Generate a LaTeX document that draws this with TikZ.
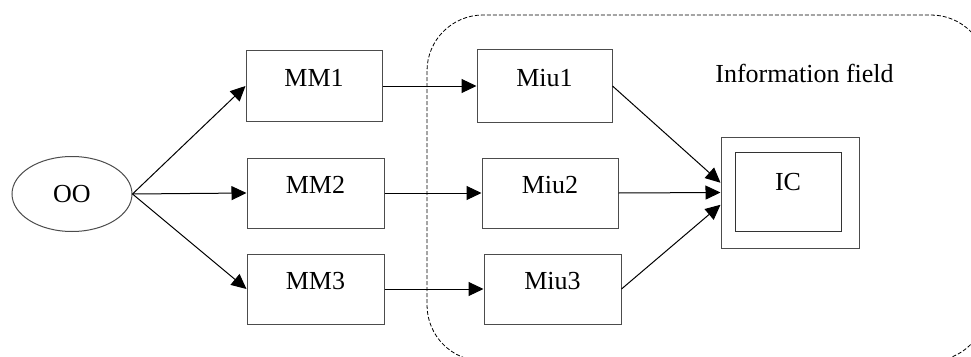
\documentclass[tikz,border=0pt]{standalone}
\usepackage{fontspec}
\setmainfont{Liberation Serif}
\usetikzlibrary{calc}
\usetikzlibrary{arrows.meta}
\usetikzlibrary{shapes.geometric}

\begin{document}
\begin{tikzpicture} [x=1pt, y=-1pt, line width=1pt,
  every node/.style={font=\fontsize{26pt}{30pt}\selectfont},
  box/.style={draw=black!70, rectangle, minimum width=136pt, minimum height=71pt, text depth=17pt, inner sep=0pt},
  arr/.style={-{Triangle[length=15pt,width=14pt]}}]
\useasboundingbox (0,0) rectangle (971,356);
\clip (0,0) rectangle (971,356);

% information field
\draw[dash pattern=on 4pt off 2pt, line width=.8pt, rounded corners=56pt] (427,15) rectangle (987,361);
\node (field) at (804.5,73) {Information field};

\node[draw=black!70, ellipse, minimum width=120pt, minimum height=75pt, inner sep=0pt] (oo) at (72,194) {OO};

\node[box] (mm1) at (314,86) {MM1};
\node[box, minimum width=137pt, minimum height=70pt] (mm2) at (315.5,193) {MM2};
\node[box, minimum width=137pt, minimum height=70pt] (mm3) at (315.5,289) {MM3};

\node[box, minimum width=135pt, minimum height=73pt] (miu1) at (544.5,86) {Miu1};
\node[box, minimum height=70pt] (miu2) at (550,193) {Miu2};
\node[box, minimum width=137pt, minimum height=70pt] (miu3) at (552.5,289) {Miu3};

\node[draw=black!70, rectangle, minimum width=138pt, minimum height=111pt] (icout) at (790,192.5) {};
\node[draw=black!80, rectangle, minimum width=106pt, minimum height=79pt, text depth=20pt, inner sep=0pt] (ic) at (788,191.5) {IC};

\foreach \i in {1,2,3} \draw[arr] (oo.east) -- (mm\i.west);
\foreach \i in {1,2,3} \draw[arr] (mm\i.east) -- (miu\i.west);

\draw[arr] (miu1.east) -- (icout.172);
\draw[arr] (miu2.east) -- (icout.west);
\draw[arr] (miu3.east) -- (icout.190);

\end{tikzpicture}
\end{document}
